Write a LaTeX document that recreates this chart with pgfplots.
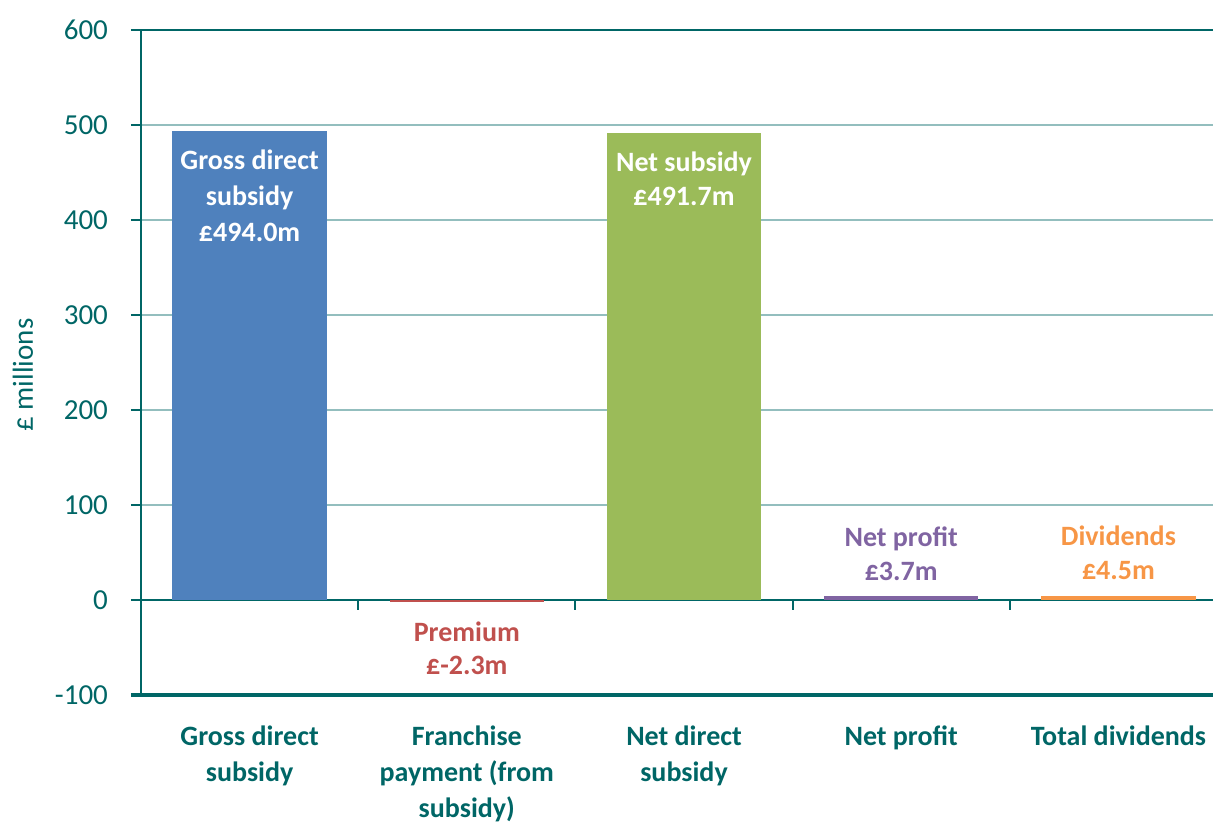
\documentclass[border=0pt]{standalone}
\usepackage{pgfplots}
\pgfplotsset{compat=1.18}
\usepackage{fontspec}
\setmainfont{Carlito}
\definecolor{tealc}{RGB}{0,102,102}
\definecolor{gridc}{RGB}{147,190,190}
\definecolor{cblue}{RGB}{79,129,189}
\definecolor{cred}{RGB}{192,80,77}
\definecolor{cgreen}{RGB}{155,187,89}
\definecolor{cpurple}{RGB}{128,100,162}
\definecolor{corange}{RGB}{247,150,70}
\begin{document}
\begin{tikzpicture}
\begin{axis}[
  scale only axis,
  width=543pt, height=332.5pt,
  at={(70.5pt,-347.5pt)}, anchor=south west,
  xmin=-0.5, xmax=4.5, ymin=-100, ymax=600,
  ytick={-100,0,...,600},
  xtick={0,1,2,3,4},
  xticklabels={Gross direct\\subsidy, Franchise\\payment (from\\subsidy), Net direct\\subsidy, Net profit, Total dividends},
  major x tick style={draw=none},
  x tick label style={align=center, font=\fontsize{14}{18}\selectfont\bfseries, text=tealc, yshift=-7pt},
  y tick label style={font=\fontsize{14.5}{18}\selectfont, text=tealc, xshift=-8pt},
  /pgf/number format/assume math mode=true,
  ymajorgrids,
  major grid style={draw=gridc, line width=1pt},
  axis line style={draw=tealc, line width=1pt},
  ytick pos=left, tick align=outside,
  major tick length=5pt,
  major y tick style={draw=tealc, line width=1pt},
  clip=false,
]
% zero line and category separators
\draw[tealc, line width=1pt] (axis cs:-0.5,0) -- (axis cs:4.5,0);
\pgfplotsinvokeforeach{0.5,1.5,2.5,3.5}{\draw[tealc, line width=1pt] (axis cs:#1,0) -- ([yshift=-5pt]axis cs:#1,0);}
\addplot[ybar, bar width=0.71, bar shift=0pt, fill=cblue, draw=none] coordinates {(0,494.0)};
\addplot[ybar, bar width=0.71, bar shift=0pt, fill=cred, draw=none] coordinates {(1,-2.3)};
\addplot[ybar, bar width=0.71, bar shift=0pt, fill=cgreen, draw=none] coordinates {(2,491.7)};
\addplot[ybar, bar width=0.71, bar shift=0pt, fill=cpurple, draw=none] coordinates {(3,3.7)};
\addplot[ybar, bar width=0.71, bar shift=0pt, fill=corange, draw=none] coordinates {(4,4.5)};
% thick bottom line
\draw[tealc, line width=1.8pt] ([xshift=-5pt]axis cs:-0.5,-100) -- (axis cs:4.5,-100);
% bar labels
\node[text=white, font=\fontsize{14}{18}\selectfont\bfseries, align=center, anchor=north, yshift=-6pt] at (axis cs:0,494.0) {Gross direct\\subsidy\\£494.0m};
\node[text=cred, font=\fontsize{14}{16.5}\selectfont\bfseries, align=center, anchor=north, yshift=-6.5pt] at (axis cs:1,-2.3) {Premium\\£-2.3m};
\node[text=white, font=\fontsize{14}{17}\selectfont\bfseries, align=center, anchor=north, yshift=-6pt] at (axis cs:2,491.7) {Net subsidy\\£491.7m};
\node[text=cpurple, font=\fontsize{14}{17}\selectfont\bfseries, align=center, anchor=south, yshift=4.5pt] at (axis cs:3,3.7) {Net profit\\£3.7m};
\node[text=corange, font=\fontsize{14}{17}\selectfont\bfseries, align=center, anchor=south, yshift=4.5pt] at (axis cs:4,4.5) {Dividends\\£4.5m};
\end{axis}
\node[rotate=90, text=tealc, font=\fontsize{14.5}{18}\selectfont] at (11.5pt,-187.5pt) {£ millions};
\pgfresetboundingbox
\useasboundingbox (0,0) rectangle (606.5pt,-411.5pt);
\end{tikzpicture}
\end{document}
